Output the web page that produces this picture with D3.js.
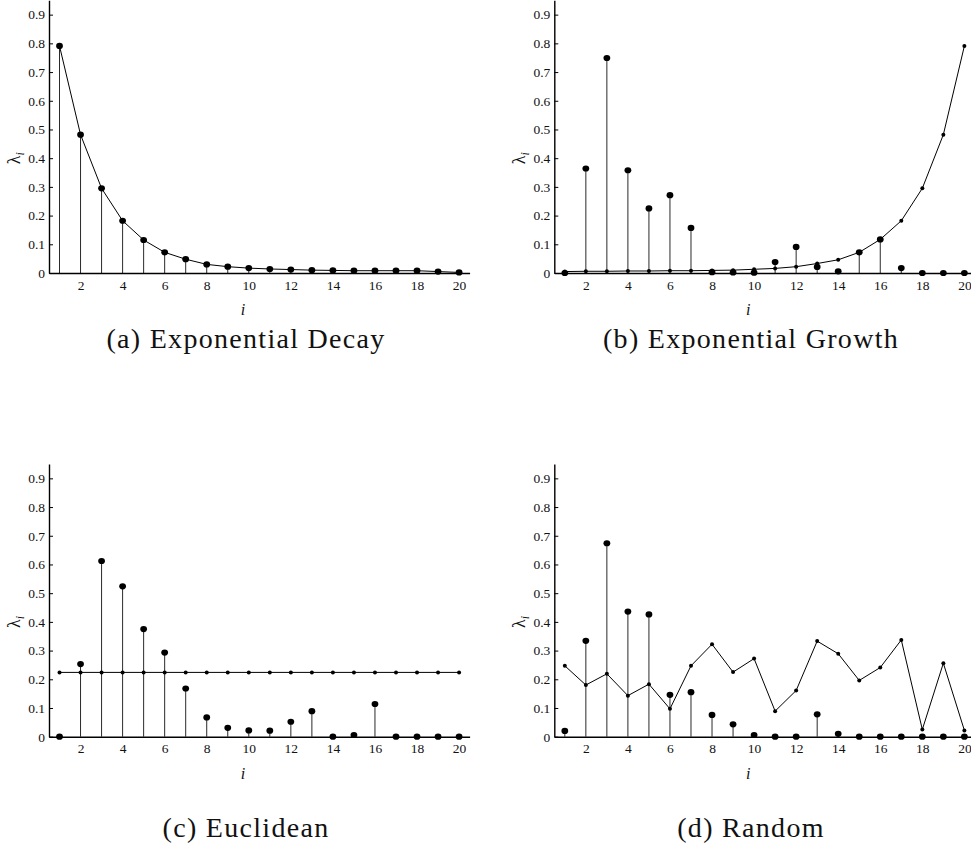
<!DOCTYPE html>
<html>
<head>
<meta charset="utf-8">
<script src="https://cdn.jsdelivr.net/npm/d3@7"></script>
<style>
  body { margin: 0; background: #fff; }
  svg { display: block; }
</style>
</head>
<body>
<svg width="971" height="848"></svg>
<script>
const SERIF = '"Liberation Serif"';

const idx = d3.range(1, 21);
const xTicks = [2, 4, 6, 8, 10, 12, 14, 16, 18, 20];
const yTicks = [0, 0.1, 0.2, 0.3, 0.4, 0.5, 0.6, 0.7, 0.8, 0.9];

// (a) exponential decay
const decayTrue = [0.791, 0.482, 0.295, 0.182, 0.115, 0.072, 0.048, 0.030, 0.022, 0.017,
                   0.014, 0.012, 0.010, 0.009, 0.008, 0.008, 0.008, 0.008, 0.005, 0.002];
const decayEst  = [0.791, 0.482, 0.295, 0.182, 0.115, 0.072, 0.048, 0.030, 0.022, 0.017,
                   0.014, 0.012, 0.010, 0.009, 0.008, 0.008, 0.008, 0.008, 0.005, 0.002];
// (b) exponential growth
const growthTrue = [0.005, 0.006, 0.006, 0.007, 0.007, 0.008, 0.008, 0.009, 0.010, 0.013,
                    0.016, 0.022, 0.033, 0.046, 0.072, 0.117, 0.182, 0.295, 0.482, 0.791];
const growthEst  = [0.000, 0.364, 0.749, 0.358, 0.225, 0.271, 0.157, 0.003, 0.002, 0.001,
                    0.038, 0.091, 0.021, 0.006, 0.072, 0.117, 0.017, 0.000, 0.000, 0.000];
// (c) euclidean
const euclidTrue = [0.224, 0.224, 0.224, 0.224, 0.224, 0.224, 0.224, 0.224, 0.224, 0.224,
                    0.224, 0.224, 0.224, 0.224, 0.224, 0.224, 0.224, 0.224, 0.224, 0.224];
const euclidEst  = [0.000, 0.253, 0.612, 0.524, 0.375, 0.293, 0.168, 0.067, 0.031, 0.022,
                    0.021, 0.052, 0.089, 0.000, 0.006, 0.114, 0.000, 0.000, 0.000, 0.000];
// (d) random
const randomTrue = [0.247, 0.180, 0.219, 0.143, 0.183, 0.097, 0.247, 0.322, 0.225, 0.272,
                    0.089, 0.161, 0.333, 0.289, 0.196, 0.241, 0.337, 0.025, 0.256, 0.022];
const randomEst  = [0.020, 0.334, 0.674, 0.436, 0.426, 0.146, 0.155, 0.076, 0.043, 0.006,
                    0.000, 0.000, 0.078, 0.010, 0.000, 0.000, 0.000, 0.000, 0.000, 0.000];

const captions = ['(a) Exponential Decay', '(b) Exponential Growth', '(c) Euclidean', '(d) Random'];

const panels = [
  { ox: 49,    oy: 0.3, tru: decayTrue,  est: decayEst,  cx: 246, cy: 348 },
  { ox: 554.3, oy: 0.3, tru: growthTrue, est: growthEst, cx: 751, cy: 348 },
  { ox: 49,    oy: 464, tru: euclidTrue, est: euclidEst, cx: 246, cy: 837 },
  { ox: 554.3, oy: 464, tru: randomTrue, est: randomEst, cx: 751, cy: 837 }
];

const plotW = 420.6;
const plotH = 272.7;

const svg = d3.select('svg');

const x = d3.scaleLinear().domain([0.5, 20.5]).range([0, plotW]);
const y = d3.scaleLinear().domain([0, 0.95]).range([plotH, 0]);

panels.forEach((p, k) => {
  const g = svg.append('g').attr('transform', `translate(${p.ox}, ${p.oy})`);

  // stems
  g.selectAll('.stem')
    .data(idx)
    .enter()
    .append('line')
    .attr('x1', i => x(i))
    .attr('x2', i => x(i))
    .attr('y1', y(0))
    .attr('y2', i => y(p.est[i - 1]))
    .attr('stroke', '#2a2a2a')
    .attr('stroke-width', 1);

  // true spectrum line
  const line = d3.line().x(i => x(i)).y(i => y(p.tru[i - 1]));
  g.append('path')
    .datum(idx)
    .attr('d', line)
    .attr('fill', 'none')
    .attr('stroke', '#000')
    .attr('stroke-width', 1);

  // axes
  const yAxis = g.append('g')
    .call(d3.axisLeft(y).tickValues(yTicks)
      .tickSizeInner(-4).tickSizeOuter(0).tickPadding(4)
      .tickFormat(d => d === 0 ? '0' : d.toFixed(1)));
  const xAxis = g.append('g')
    .attr('transform', `translate(0, ${plotH})`)
    .call(d3.axisBottom(x).tickValues(xTicks)
      .tickSizeInner(0).tickSizeOuter(0).tickPadding(7));
  [yAxis, xAxis].forEach(a => {
    a.select('.domain').attr('stroke', '#000').attr('stroke-width', 1.4);
    a.selectAll('.tick line').attr('stroke', '#000');
    a.selectAll('.tick text')
      .style('font-family', SERIF)
      .style('font-size', '13.5px')
      .attr('fill', '#111');
  });

  // true points (small)
  g.selectAll('.tp')
    .data(idx)
    .enter()
    .append('circle')
    .attr('cx', i => x(i))
    .attr('cy', i => y(p.tru[i - 1]))
    .attr('r', 2)
    .attr('fill', '#000');

  // estimated points (large)
  g.selectAll('.ep')
    .data(idx)
    .enter()
    .append('ellipse')
    .attr('cx', i => x(i))
    .attr('cy', i => y(p.est[i - 1]))
    .attr('rx', 3.4)
    .attr('ry', 3.1)
    .attr('fill', '#000');

  // y label
  const yl = g.append('text')
    .attr('transform', `translate(-29, ${y(0.4)}) rotate(-90)`)
    .attr('text-anchor', 'middle')
    .attr('fill', '#111')
    .style('font-family', SERIF)
    .style('font-size', '18px');
  yl.append('tspan').text('λ');
  yl.append('tspan')
    .attr('dy', 4)
    .style('font-style', 'italic')
    .style('font-size', '12px')
    .text('i');

  // x label
  g.append('text')
    .attr('x', 194)
    .attr('y', plotH + 42)
    .attr('text-anchor', 'middle')
    .attr('fill', '#111')
    .style('font-family', SERIF)
    .style('font-style', 'italic')
    .style('font-size', '16px')
    .text('i');

  // caption
  svg.append('text')
    .attr('x', p.cx)
    .attr('y', p.cy)
    .attr('text-anchor', 'middle')
    .attr('fill', '#111')
    .style('font-family', SERIF)
    .style('font-size', '28px')
    .style('letter-spacing', '1.3px')
    .text(captions[k]);
});
</script>
</body>
</html>
